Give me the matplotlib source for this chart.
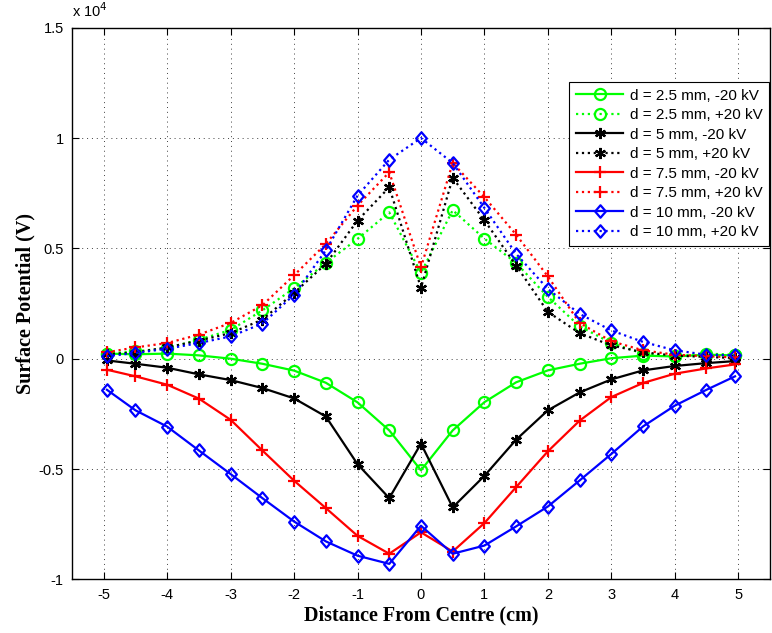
import matplotlib
matplotlib.use("Agg")
import matplotlib.pyplot as plt
import numpy as np
from matplotlib.path import Path
from matplotlib.ticker import FixedLocator, FuncFormatter

# distance from centre (cm)
distance = [-4.95, -4.5, -4, -3.5, -3, -2.5, -2, -1.5, -1, -0.5, 0,
            0.5, 1, 1.5, 2, 2.5, 3, 3.5, 4, 4.5, 4.95]

# surface potential (V)
d25_neg = [230, 200, 230, 150, 0, -230, -540, -1090, -1980, -3250, -5060,
           -3250, -1970, -1070, -530, -230, 20, 140, 100, 180, 150]
d25_pos = [230, 330, 480, 860, 1300, 2190, 3190, 4340, 5430, 6630, 3890,
           6730, 5440, 4340, 2800, 1470, 710, 230, 110, 230, 180]
d5_neg = [-80, -230, -410, -710, -970, -1330, -1800, -2620, -4780, -6320, -3850,
          -6740, -5310, -3670, -2340, -1530, -940, -530, -330, -200, -110]
d5_pos = [200, 280, 510, 820, 1160, 1770, 2980, 4300, 6260, 7770, 3210,
          8200, 6270, 4220, 2120, 1160, 600, 290, 140, 80, 30]
d75_neg = [-500, -800, -1180, -1810, -2770, -4160, -5530, -6770, -8030, -8840, -7870,
           -8740, -7450, -5820, -4200, -2810, -1740, -1100, -680, -440, -260]
d75_pos = [290, 510, 710, 1090, 1620, 2420, 3780, 5200, 6940, 8450, 4140,
           8870, 7320, 5620, 3730, 1620, 790, 380, 180, 110, 60]
d10_neg = [-1410, -2340, -3080, -4160, -5230, -6320, -7380, -8280, -8930, -9300, -7570,
           -8840, -8470, -7600, -6700, -5520, -4320, -3070, -2130, -1410, -800]
d10_pos = [110, 260, 450, 710, 1010, 1590, 2900, 4910, 7390, 9020, 10000,
           8870, 6830, 4750, 3160, 2030, 1280, 760, 380, 180, 150]

x_ticks = [-5, -4, -3, -2, -1, 0, 1, 2, 3, 4, 5]
y_ticks = [-10000, -5000, 0, 5000, 10000, 15000]

SANS = ["Liberation Sans", "DejaVu Sans"]
SERIF = ["Liberation Serif", "DejaVu Serif"]

# matlab style diamond, a little taller than wide
diamond = Path([(0, 1), (0.86, 0), (0, -1), (-0.86, 0), (0, 1)],
               [Path.MOVETO, Path.LINETO, Path.LINETO, Path.LINETO, Path.CLOSEPOLY])
asterisk = (6, 2, 0)

series = [
    (d25_neg, "d = 2.5 mm, -20 kV", "#00ff00", "-", "o", 8),
    (d25_pos, "d = 2.5 mm, +20 kV", "#00ff00", ":", "o", 8),
    (d5_neg, "d = 5 mm, -20 kV", "black", "-", asterisk, 8),
    (d5_pos, "d = 5 mm, +20 kV", "black", ":", asterisk, 8),
    (d75_neg, "d = 7.5 mm, -20 kV", "red", "-", "+", 9),
    (d75_pos, "d = 7.5 mm, +20 kV", "red", ":", "+", 9),
    (d10_neg, "d = 10 mm, -20 kV", "blue", "-", diamond, 9),
    (d10_pos, "d = 10 mm, +20 kV", "blue", ":", diamond, 9),
]

fig = plt.figure(figsize=(7.72, 6.33), dpi=100)
ax = fig.add_axes([0.0933, 0.0848, 0.904, 0.8714])

for vals, label, color, ls, marker, ms in series:
    ax.plot(distance, vals, linestyle=ls, color=color, lw=1.6,
            marker=marker, markersize=ms, markerfacecolor="none",
            markeredgecolor=color, markeredgewidth=1.6, label=label)

ax.set_xlim(-5.5, 5.5)
ax.set_ylim(-10000, 15000)
ax.xaxis.set_major_locator(FixedLocator(x_ticks))
ax.yaxis.set_major_locator(FixedLocator(y_ticks))
ax.xaxis.set_major_formatter(FuncFormatter(lambda v, p: f"{v:g}"))
ax.yaxis.set_major_formatter(FuncFormatter(lambda v, p: f"{v / 1e4:g}"))

ax.grid(True, color="0.25", linestyle=(0, (1, 4)), linewidth=0.7)
ax.tick_params(direction="in", length=5, width=0.8, top=True, right=True,
               labelsize=10.5, pad=6)
for lbl in ax.get_xticklabels() + ax.get_yticklabels():
    lbl.set_family(SANS)
for sp in ax.spines.values():
    sp.set_linewidth(1.0)

ax.set_xlabel("Distance From Centre (cm)", family=SERIF, fontweight="bold",
              fontsize=14.5, labelpad=3)
ax.set_ylabel("Surface Potential (V)", family=SERIF, fontweight="bold",
              fontsize=14.5, labelpad=2)

ax.text(0.0, 1.014, r"x 10$^4$", transform=ax.transAxes, family=SANS,
        fontsize=10.5, ha="left", va="bottom")

leg = ax.legend(loc="upper right", bbox_to_anchor=(0.999, 0.902),
                prop={"family": SANS, "size": 11}, frameon=True, fancybox=False,
                edgecolor="black", framealpha=1, handlelength=3.1,
                handletextpad=0.4, labelspacing=0.36, borderpad=0.45,
                borderaxespad=0)
leg.get_frame().set_linewidth(0.8)

fig.savefig("out.png", dpi=100)
